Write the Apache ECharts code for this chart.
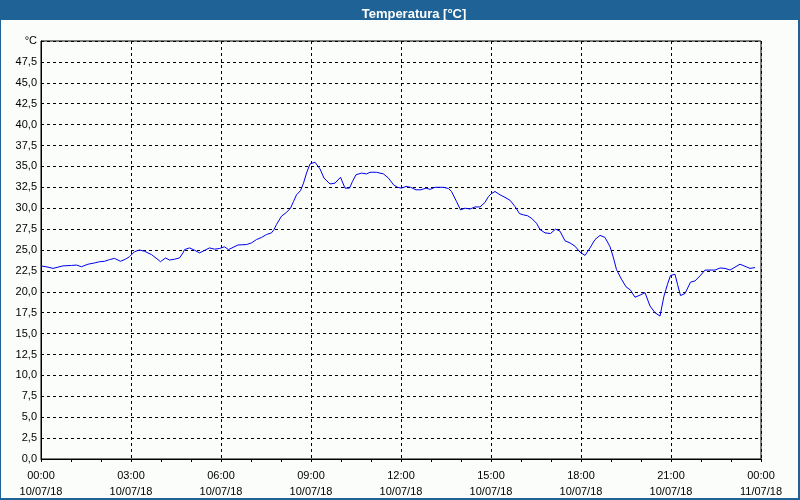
<!DOCTYPE html>
<html>
<head>
<meta charset="utf-8">
<script src="https://cdn.jsdelivr.net/npm/echarts@6/dist/echarts.min.js"></script>
<style>
html,body{margin:0;padding:0;background:#fbfdfb;}
#c{width:800px;height:500px;}
</style>
</head>
<body>
<div id="c"></div>
<script>
// Minutes since 00:00 on 10/07/18
const minutes = [0,14,24,34,44,61,71,81,94,107,117,127,137,147,159,169,177,187,197,207,221,234,239,
249,257,267,277,284,287,297,307,317,327,337,347,357,367,375,382,394,411,421,431,441,451,461,466,471,481,491,499,
505,511,519,525,531,538,548,558,566,578,588,599,608,617,623,630,641,651,658,671,685,695,705,713,721,730,739,750,
760,770,778,788,798,805,815,821,831,839,848,858,868,878,888,895,901,908,918,928,938,948,957,965,973,981,991,998,
1008,1019,1029,1038,1048,1058,1068,1078,1088,1098,1108,1118,1128,1138,1145,1151,1161,1170,1179,1188,1198,1208,
1218,1228,1238,1246,1253,1259,1268,1273,1279,1288,1299,1308,1318,1328,1338,1348,1358,1368,1378,1388,1398,1408,1418,1428];
// Temperature [°C]
const temps = [23.1,22.95,22.8,22.95,23.1,23.15,23.2,23.0,23.3,23.45,23.6,23.65,23.85,24.0,23.65,23.9,24.2,24.8,25.0,24.85,24.45,23.85,23.6,
24.05,23.8,23.9,24.05,24.65,25.05,25.25,24.98,24.65,24.95,25.25,25.1,25.18,25.38,25.05,25.25,25.6,25.65,25.85,26.25,26.5,26.85,27.05,27.45,28.05,29.05,29.5,30.0,
30.8,31.6,32.1,33.0,34.2,35.3,35.5,34.7,33.6,32.9,33.0,33.7,32.4,32.4,33.2,34.0,34.2,34.1,34.3,34.3,34.1,33.6,32.8,32.5,32.4,32.6,32.5,32.2,
32.2,32.4,32.25,32.5,32.5,32.5,32.35,32.0,30.8,29.8,30.0,29.9,30.15,30.15,30.7,31.4,31.75,32.0,31.6,31.3,30.95,30.2,29.35,29.2,29.1,28.8,28.2,27.45,
27.05,26.97,27.5,27.25,26.1,25.85,25.45,24.75,24.35,25.25,26.25,26.75,26.5,25.4,24.05,22.65,21.5,20.6,20.2,19.35,19.6,19.9,
18.3,17.5,17.1,19.5,20.9,21.95,22.1,20.9,19.55,19.8,21.15,21.3,21.9,22.6,22.6,22.6,22.85,22.8,22.6,22.95,23.3,23.05,22.8,22.9];
const startDate = '10/07/18';
const endDate = '11/07/18';
const unitLabel = '°C';
const titleText = 'Temperatura [°C]';

const data = minutes.map((m, i) => [m, temps[i]]);
const pad = n => (n < 10 ? '0' : '') + n;

const chart = echarts.init(document.getElementById('c'), null, {renderer: 'canvas'});
chart.setOption({
  backgroundColor: '#fbfdfb',
  animation: false,
  graphic: [
    {type: 'rect', shape: {x: 0, y: 0, width: 800, height: 20}, style: {fill: '#1e6296'}, z: 0},
    {type: 'rect', shape: {x: 0.5, y: 0.5, width: 798, height: 498}, style: {fill: null, stroke: '#1e6296', lineWidth: 1}, z: 0},
    {type: 'rect', shape: {x: 798, y: 0, width: 2, height: 500}, style: {fill: '#1e6296'}, z: 0},
    {type: 'rect', shape: {x: 0, y: 498, width: 800, height: 2}, style: {fill: '#1e6296'}, z: 0}
  ],
  title: {
    text: titleText,
    left: 409, top: 3, textAlign: 'center',
    textStyle: {color: '#ffffff', fontFamily: 'Liberation Sans', fontWeight: 'bold', fontSize: 13},
    z: 10
  },
  grid: {left: 41, right: 39, top: 41, bottom: 40, show: true, borderColor: '#000', borderWidth: 1, backgroundColor: '#fbfdfb'},
  xAxis: {
    type: 'value', min: 0, max: 1440, interval: 180,
    axisLine: {show: true, lineStyle: {color: '#000', width: 1}},
    axisTick: {show: true, length: 3, lineStyle: {color: '#000'}},
    minorTick: {show: true, splitNumber: 3, length: 3, lineStyle: {color: '#000'}},
    splitLine: {show: true, lineStyle: {color: '#000', type: [3, 3], width: 1}},
    axisLabel: {
      margin: 9, color: '#000', fontFamily: 'Liberation Sans', fontSize: 11, lineHeight: 16,
      formatter: v => {
        const h = Math.floor(v / 60) % 24, m = v % 60;
        return pad(h) + ':' + pad(m) + '\n' + (v >= 1440 ? endDate : startDate);
      }
    }
  },
  yAxis: {
    type: 'value', min: 0, max: 50, interval: 2.5,
    axisLine: {show: true, lineStyle: {color: '#000', width: 1}},
    axisTick: {show: false},
    splitLine: {show: true, lineStyle: {color: '#000', type: [3, 3], width: 1}},
    axisLabel: {
      margin: 4, color: '#000', fontFamily: 'Liberation Sans', fontSize: 11,
      formatter: v => (v >= 50 ? unitLabel : v.toFixed(1).replace('.', ','))
    }
  },
  series: [{
    type: 'line', data: data, showSymbol: false, symbol: 'none',
    lineStyle: {color: '#0000ee', width: 1}, z: 5
  }]
});
</script>
</body>
</html>
